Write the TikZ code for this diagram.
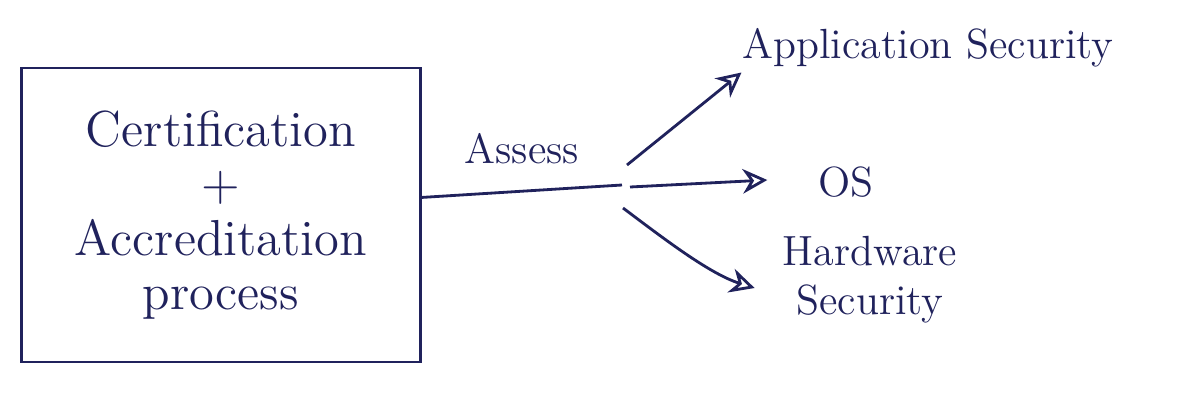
\documentclass[tikz,border=0pt]{standalone}
\usepackage{tikz}
\usetikzlibrary{arrows.meta, positioning, calc}
\definecolor{ink}{RGB}{32,34,92}

\begin{document}
\begin{tikzpicture}[x=0.01cm, y=-0.01cm, >={Stealth[open, length=7pt, width=7pt]},
    thick, draw=ink, text=ink,
    lbl/.style={font=\large}]
  \useasboundingbox (0,0) rectangle (1190,403);

  % process box
  \node[draw, minimum width=3.98cm, minimum height=2.94cm, align=center,
        font=\fontsize{14.4}{15.5}\selectfont] (proc) at (221,215)
    {Certification\\+\\Accreditation\\process};

  % assess link to the split point
  \coordinate (junc) at (622,185);
  \draw (proc.5) -- node[above=4pt, lbl] {Assess} (junc);

  % what gets assessed
  \node[lbl] (app) at (928,48) {Application Security};
  \node[lbl] (os) at (846,182) {OS};
  \node[lbl, align=center] (hw) at (870,280) {Hardware\\Security};

  \draw[->] ($(junc)+(5,-20)$) -- ($(app.south west)+(12,-8)$);
  \draw[->] ($(junc)+(8,2)$) -- ($(os.west)+(-38,-2)$);
  \draw[->] ($(junc)+(1,23)$) .. controls +(40,30) and +(-45,-14) .. ($(hw.west)+(-15,8)$);
\end{tikzpicture}
\end{document}
